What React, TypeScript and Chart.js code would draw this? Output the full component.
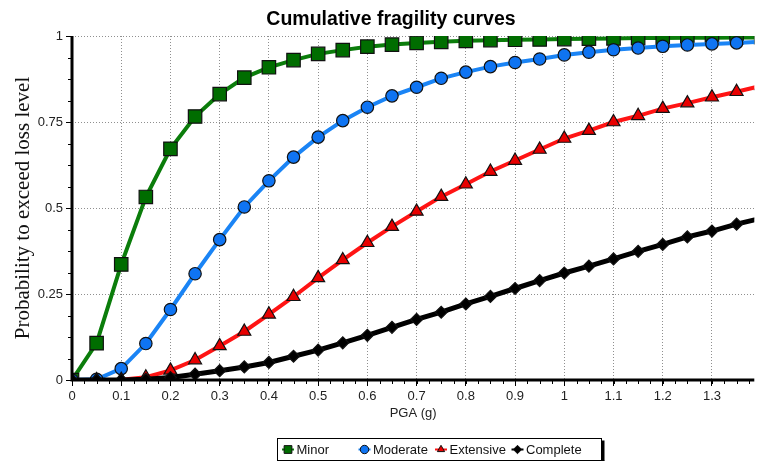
import React, { useEffect, useRef } from 'react';
import { Chart, registerables } from 'chart.js';
import { drawPoint } from 'chart.js/helpers';

Chart.register(...registerables);

const chartTitle = 'Cumulative fragility curves';
const xTitle = 'PGA (g)';
const yTitle = 'Probability to exceed loss level';
const seriesNames = ['Minor', 'Moderate', 'Extensive', 'Complete'];

const pga = [
  0, 0.05, 0.1, 0.15, 0.2, 0.25, 0.3, 0.35, 0.4, 0.45,
  0.5, 0.55, 0.6, 0.65, 0.7, 0.75, 0.8, 0.85, 0.9, 0.95,
  1.0, 1.05, 1.1, 1.15, 1.2, 1.25, 1.3, 1.35, 1.4,
];

const minor = [
  0, 0.107, 0.336, 0.532, 0.672, 0.766, 0.831, 0.879, 0.909, 0.930,
  0.948, 0.959, 0.969, 0.975, 0.980, 0.983, 0.986, 0.988, 0.989, 0.990,
  0.991, 0.992, 0.993, 0.994, 0.994, 0.995, 0.995, 0.996, 0.996,
];
const moderate = [
  0, 0.002, 0.033, 0.106, 0.205, 0.309, 0.408, 0.503, 0.579, 0.648,
  0.706, 0.754, 0.793, 0.826, 0.851, 0.877, 0.895, 0.911, 0.923, 0.933,
  0.945, 0.953, 0.960, 0.965, 0.970, 0.974, 0.977, 0.980, 0.983,
];
const extensive = [
  0, 0, 0.001, 0.008, 0.028, 0.058, 0.099, 0.141, 0.191, 0.242,
  0.297, 0.349, 0.399, 0.446, 0.490, 0.533, 0.569, 0.606, 0.638, 0.670,
  0.702, 0.725, 0.750, 0.768, 0.789, 0.805, 0.822, 0.838, 0.855,
];
const complete = [
  0, 0, 0, 0.002, 0.007, 0.017, 0.027, 0.038, 0.051, 0.069,
  0.087, 0.108, 0.130, 0.153, 0.176, 0.197, 0.221, 0.243, 0.266, 0.289,
  0.311, 0.331, 0.352, 0.374, 0.394, 0.416, 0.433, 0.453, 0.470,
];

const xMin = 0;
const xMax = 1.386;
const xStep = 0.1;
const yTicks = [0, 0.25, 0.5, 0.75, 1];

const fmt = (v: number | string) => String(+Number(v).toFixed(2));

export default function App() {
  const ref = useRef<HTMLCanvasElement>(null);

  useEffect(() => {
    document.body.style.margin = '0';
    const canvas = ref.current;
    if (!canvas) return;

    const toPts = (ys: number[]) => pga.map((x, i) => ({ x, y: ys[i] }));

    const styles = [
      { line: '#0b7d0b', fill: '#006d00', style: 'rect', r: 9.5, w: 4, order: 3 },
      { line: '#1a84f5', fill: '#0f74f2', style: 'circle', r: 6.2, w: 4, order: 2 },
      { line: '#ff1414', fill: '#e80000', style: 'triangle', r: 7.5, w: 4, order: 1 },
      { line: '#000000', fill: '#000000', style: 'rectRot', r: 6, w: 5, order: 0 },
    ];
    const values = [minor, moderate, extensive, complete];

    const datasets = values.map((vals, i) => ({
      label: seriesNames[i],
      data: toPts(vals),
      borderColor: styles[i].line,
      backgroundColor: styles[i].fill,
      borderWidth: styles[i].w,
      pointStyle: styles[i].style as any,
      pointRadius: styles[i].r,
      pointBackgroundColor: styles[i].fill,
      pointBorderColor: '#111',
      pointBorderWidth: 1.2,
      tension: 0,
      clip: 0,
      order: styles[i].order,
    }));

    const decor = {
      id: 'decor',
      afterDatasetsDraw(chart: any) {
        const { ctx, chartArea: a, scales } = chart;
        const x = scales.x;
        const y = scales.y;
        ctx.save();
        ctx.strokeStyle = '#000';
        ctx.lineWidth = 1;
        ctx.beginPath();
        for (let k = 0; k * 0.025 <= x.max + 1e-9; k++) {
          const px = Math.round(x.getPixelForValue(k * 0.025)) + 0.5;
          ctx.moveTo(px, a.bottom);
          ctx.lineTo(px, a.bottom + 4);
        }
        for (let k = 0; k <= 16; k++) {
          const py = Math.round(y.getPixelForValue(k * 0.0625)) + 0.5;
          ctx.moveTo(a.left - 4, py);
          ctx.lineTo(a.left, py);
        }
        ctx.stroke();
        ctx.lineWidth = 3;
        ctx.beginPath();
        ctx.moveTo(a.left, a.top);
        ctx.lineTo(a.left, a.bottom + 1.5);
        ctx.moveTo(a.left - 1.5, a.bottom);
        ctx.lineTo(a.right, a.bottom);
        ctx.stroke();
        ctx.restore();
      },
      afterDraw(chart: any) {
        const { ctx } = chart;
        ctx.save();
        // title
        ctx.fillStyle = '#000';
        ctx.font = 'bold 19.5px "Liberation Sans", Arial, sans-serif';
        ctx.textAlign = 'center';
        ctx.textBaseline = 'alphabetic';
        ctx.fillText(chartTitle, 391, 25);

        // legend
        const bx = 277.5, by = 438.5, bw = 324, bh = 22;
        ctx.fillStyle = '#000';
        ctx.fillRect(bx + bw, by + 2, 3, bh + 2);
        ctx.fillRect(bx + 2, by + bh, bw + 1, 3);
        ctx.fillStyle = '#fff';
        ctx.fillRect(bx, by, bw, bh);
        ctx.strokeStyle = '#000';
        ctx.lineWidth = 1;
        ctx.strokeRect(bx, by, bw, bh);
        const cy = 449.5;
        chart.data.datasets.forEach((ds: any, i: number) => {
          const cx = 288 + i * 76.5;
          ctx.strokeStyle = ds.borderColor;
          ctx.lineWidth = 2;
          ctx.beginPath();
          ctx.moveTo(cx - 6, cy);
          ctx.lineTo(cx + 6, cy);
          ctx.stroke();
          ctx.fillStyle = ds.pointBackgroundColor;
          ctx.strokeStyle = '#111';
          ctx.lineWidth = 1;
          drawPoint(ctx, { pointStyle: ds.pointStyle, radius: ds.pointStyle === 'rect' ? 5.5 : 4.2, borderWidth: 1, rotation: 0 } as any, cx, cy);
          ctx.fillStyle = '#111';
          ctx.font = '13px "Liberation Sans", Arial, sans-serif';
          ctx.textAlign = 'left';
          ctx.textBaseline = 'middle';
          ctx.fillText(ds.label, cx + 8.5, cy + 0.5);
        });
        ctx.restore();
      },
    };

    const tickFont = { family: '"Liberation Sans", Arial, sans-serif', size: 13 };

    const chart = new Chart(canvas, {
      type: 'line',
      data: { datasets: datasets as any },
      options: {
        responsive: false,
        maintainAspectRatio: false,
        animation: false,
        devicePixelRatio: 1,
        layout: { padding: { top: 36, left: 0, right: 0, bottom: 0 } },
        plugins: {
          legend: { display: false },
          title: { display: false },
          tooltip: { enabled: false },
        },
        scales: {
          x: {
            type: 'linear',
            min: xMin,
            max: xMax,
            afterFit: (s: any) => { s.height = 81; },
            ticks: {
              stepSize: xStep,
              includeBounds: false,
              autoSkip: false,
              maxRotation: 0,
              font: tickFont,
              color: '#222',
              padding: 3,
              callback: (v: any) => fmt(v),
            },
            grid: { color: '#8f8f8f', lineWidth: 1, drawTicks: true, tickLength: 6, tickColor: '#000', tickWidth: 1 },
            border: { display: false, dash: [1, 2] },
            title: { display: true, text: xTitle, font: tickFont, color: '#222', padding: { top: 0, bottom: 40 } },
          },
          y: {
            type: 'linear',
            min: yTicks[0],
            max: yTicks[yTicks.length - 1],
            afterFit: (s: any) => { s.width = 72; },
            afterBuildTicks: (s: any) => { s.ticks = yTicks.map((v) => ({ value: v })); },
            ticks: {
              font: tickFont,
              color: '#222',
              padding: 3,
              callback: (v: any) => fmt(v),
            },
            grid: { color: '#8f8f8f', lineWidth: 1, drawTicks: true, tickLength: 6, tickColor: '#000', tickWidth: 1 },
            border: { display: false, dash: [1, 2] },
            title: {
              display: true,
              text: yTitle,
              font: { family: '"Liberation Serif", "Times New Roman", serif', size: 21 },
              color: '#111',
              padding: { top: 10.5, bottom: 0 },
            },
          },
        },
      },
      plugins: [decor],
    });

    return () => chart.destroy();
  }, []);

  return (
    <div style={{ width: 765, height: 461 }}>
      <canvas ref={ref} width={765} height={461} style={{ display: 'block', width: 765, height: 461 }} />
    </div>
  );
}
